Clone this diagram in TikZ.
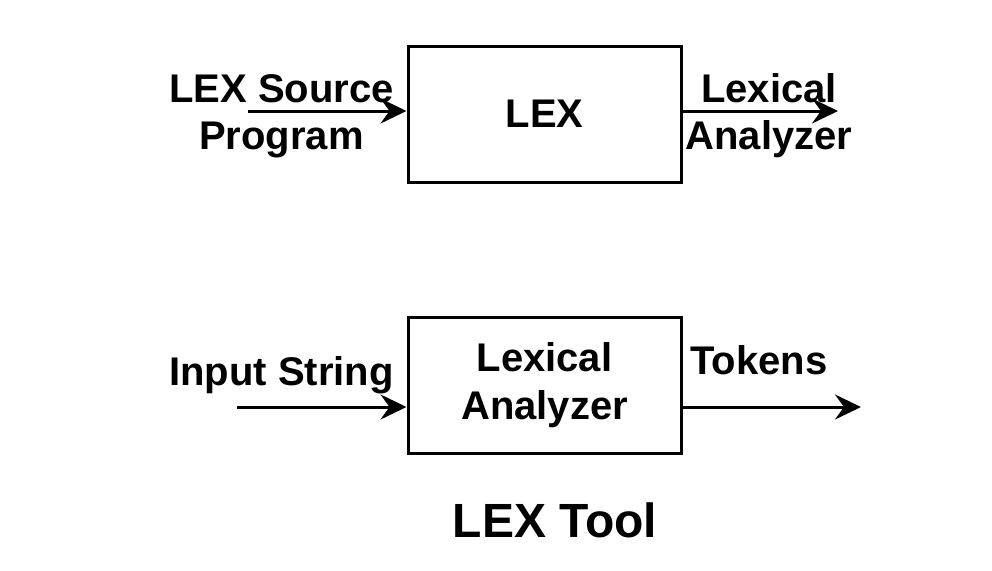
\documentclass[tikz,border=0pt]{standalone}
\usepackage{fontspec}
\setmainfont{Liberation Sans}
\usetikzlibrary{arrows.meta}
\tikzset{
  blk/.style={draw=black, line width=3pt, minimum width=273pt, minimum height=136pt, inner sep=0pt, align=center, font=\bfseries\fontsize{40}{48}\selectfont},
  lbl/.style={anchor=base, inner sep=0pt, font=\bfseries\fontsize{40}{48}\selectfont},
  ttl/.style={anchor=base, inner sep=0pt, font=\bfseries\fontsize{48}{56}\selectfont},
  arr/.style={line width=3pt, -{Stealth[length=26pt,width=25pt,inset=9pt]}}
}
\begin{document}
\begin{tikzpicture}[x=1pt,y=-1pt]
\useasboundingbox (0,0) rectangle (992,570);
% boxes
\node[blk] (lex) at (544.5,114) {LEX};
\node[blk] (ana) at (544.5,385.5) {Lexical\\Analyzer};
% free ends
\coordinate (in1) at (248,111);
\coordinate (out1) at (838,111);
\coordinate (in2) at (237,407);
\coordinate (out2) at (861,407);
% connectors
\draw[arr] (in1) -- (lex.west |- in1);
\draw[arr] (lex.east |- out1) -- (out1);
\draw[arr] (in2) -- (ana.west |- in2);
\draw[arr] (ana.east |- out2) -- (out2);
% labels
\node[lbl] (srcA) at (281.5,102) {LEX Source};
\node[lbl] (srcB) at (281.5,149) {Program};
\node[lbl] (laA) at (769,102) {Lexical};
\node[lbl] (laB) at (769,149) {Analyzer};
\node[lbl] (instr) at (281.5,385) {Input String};
\node[lbl] (tok) at (759,374) {Tokens};
\node[ttl] (title) at (555,537) {LEX Tool};
\end{tikzpicture}
\end{document}
